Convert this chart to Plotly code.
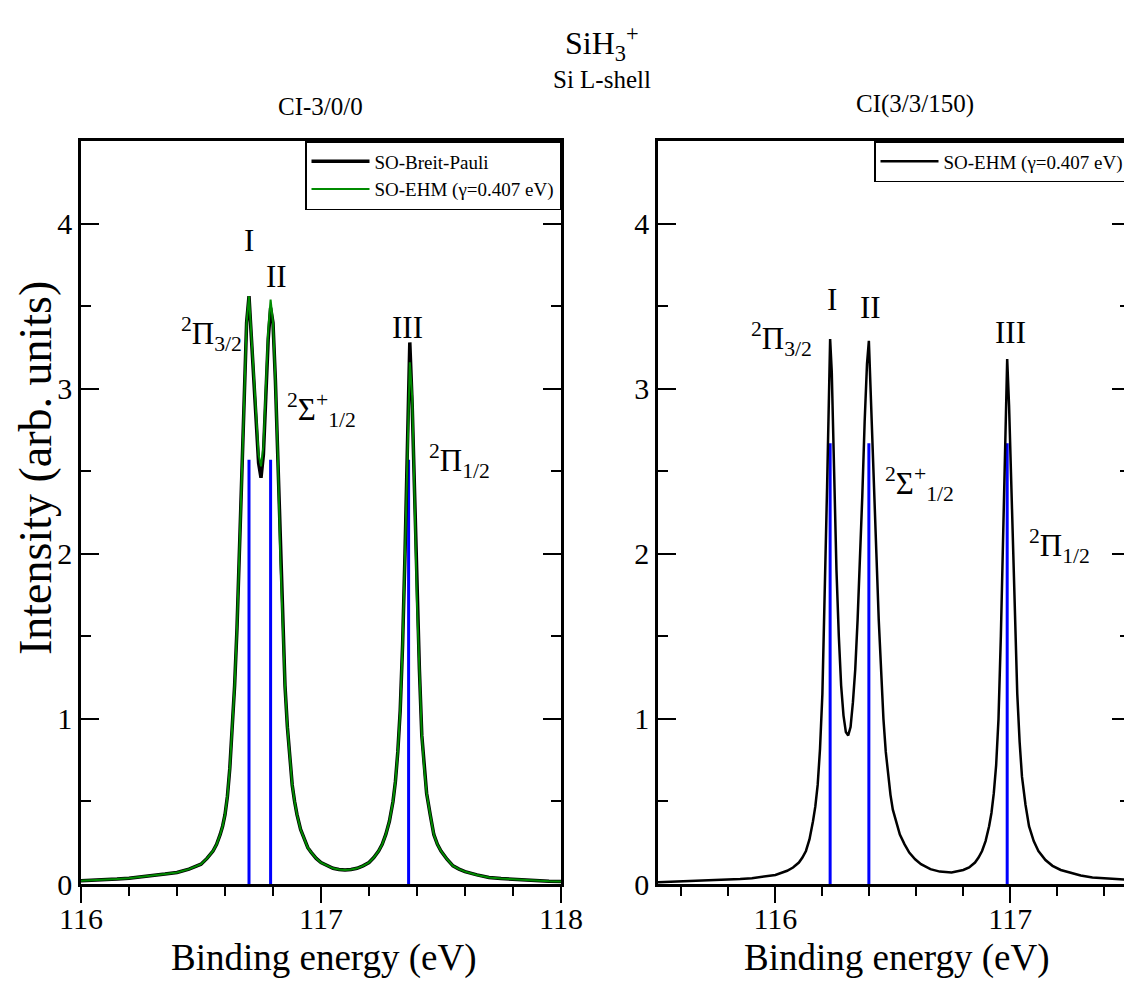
import plotly.graph_objects as go

# ---------------- data ----------------
# Left panel: CI-3/0/0, SO-Breit-Pauli (black) and SO-EHM (green)
left_x = [116.00, 116.05, 116.10, 116.15, 116.20, 116.25, 116.30, 116.35, 116.40, 116.45,
          116.50, 116.525, 116.55, 116.565, 116.58, 116.59, 116.60, 116.61, 116.62, 116.63,
          116.64, 116.65, 116.66, 116.67, 116.68, 116.69, 116.70, 116.71, 116.72, 116.73,
          116.74, 116.75, 116.76, 116.77, 116.78, 116.79, 116.80, 116.81, 116.82, 116.83,
          116.84, 116.85, 116.86, 116.87, 116.88, 116.89, 116.90, 116.915, 116.93, 116.945,
          116.96, 116.98, 117.00, 117.025, 117.05, 117.075, 117.10, 117.125, 117.15, 117.175,
          117.20, 117.22, 117.24, 117.255, 117.27, 117.285, 117.30, 117.31, 117.32, 117.33,
          117.34, 117.35, 117.36, 117.37, 117.38, 117.39, 117.40, 117.41, 117.42, 117.43,
          117.44, 117.455, 117.47, 117.485, 117.50, 117.525, 117.55, 117.575, 117.60, 117.65,
          117.70, 117.75, 117.80, 117.85, 117.90, 117.95, 118.00]
left_bp = [0.020, 0.022, 0.025, 0.030, 0.035, 0.042, 0.050, 0.060, 0.070, 0.090,
           0.120, 0.155, 0.200, 0.240, 0.300, 0.350, 0.420, 0.530, 0.700, 0.920,
           1.200, 1.550, 2.000, 2.500, 3.000, 3.400, 3.560, 3.300, 3.000, 2.750,
           2.550, 2.460, 2.600, 2.950, 3.300, 3.490, 3.400, 3.050, 2.600, 2.000,
           1.550, 1.200, 0.950, 0.750, 0.600, 0.500, 0.420, 0.330, 0.270, 0.220,
           0.190, 0.155, 0.130, 0.110, 0.095, 0.088, 0.085, 0.088, 0.095, 0.110,
           0.130, 0.160, 0.200, 0.240, 0.300, 0.380, 0.500, 0.620, 0.800, 1.050,
           1.450, 2.000, 2.700, 3.280, 2.900, 2.300, 1.700, 1.300, 0.900, 0.700,
           0.550, 0.420, 0.300, 0.240, 0.200, 0.150, 0.110, 0.090, 0.075, 0.055,
           0.040, 0.033, 0.028, 0.024, 0.020, 0.017, 0.015]
left_ehm = [0.020, 0.022, 0.025, 0.030, 0.035, 0.042, 0.050, 0.060, 0.070, 0.090,
            0.120, 0.155, 0.200, 0.240, 0.300, 0.350, 0.420, 0.530, 0.700, 0.920,
            1.200, 1.550, 2.000, 2.500, 3.000, 3.400, 3.560, 3.320, 3.020, 2.780,
            2.600, 2.530, 2.650, 3.000, 3.350, 3.540, 3.400, 3.050, 2.600, 2.000,
            1.550, 1.200, 0.950, 0.750, 0.600, 0.500, 0.420, 0.330, 0.270, 0.220,
            0.190, 0.155, 0.130, 0.110, 0.095, 0.088, 0.085, 0.088, 0.095, 0.110,
            0.130, 0.160, 0.200, 0.240, 0.300, 0.380, 0.500, 0.620, 0.800, 1.050,
            1.450, 2.000, 2.650, 3.160, 2.950, 2.300, 1.700, 1.300, 0.900, 0.700,
            0.550, 0.420, 0.300, 0.240, 0.200, 0.150, 0.110, 0.090, 0.075, 0.055,
            0.040, 0.033, 0.028, 0.024, 0.020, 0.017, 0.015]
left_sticks_x = [116.70, 116.79, 117.365]
left_sticks_h = [2.57, 2.57, 2.57]

# Right panel: CI(3/3/150), SO-EHM (black)
right_x = [115.50, 115.60, 115.70, 115.80, 115.85, 115.90, 115.95, 116.00, 116.05, 116.075,
           116.10, 116.115, 116.13, 116.145, 116.16, 116.17, 116.18, 116.19, 116.20, 116.21,
           116.22, 116.233, 116.24, 116.25, 116.26, 116.27, 116.28, 116.29, 116.30, 116.31,
           116.32, 116.33, 116.34, 116.35, 116.36, 116.37, 116.38, 116.39, 116.398, 116.41,
           116.42, 116.43, 116.44, 116.45, 116.46, 116.47, 116.48, 116.49, 116.50, 116.515,
           116.53, 116.55, 116.57, 116.595, 116.62, 116.66, 116.70, 116.75, 116.80, 116.825,
           116.85, 116.865, 116.88, 116.895, 116.91, 116.92, 116.93, 116.94, 116.95, 116.96,
           116.97, 116.98, 116.987, 116.995, 117.01, 117.02, 117.03, 117.04, 117.05, 117.065,
           117.08, 117.10, 117.12, 117.15, 117.18, 117.215, 117.25, 117.30, 117.35, 117.40,
           117.45, 117.51]
right_y = [0.010, 0.015, 0.020, 0.025, 0.030, 0.035, 0.043, 0.055, 0.080, 0.100,
           0.130, 0.160, 0.200, 0.270, 0.380, 0.470, 0.600, 0.820, 1.150, 1.700,
           2.400, 3.300, 3.100, 2.500, 1.900, 1.500, 1.200, 1.020, 0.920, 0.900,
           0.950, 1.100, 1.300, 1.600, 1.950, 2.350, 2.800, 3.150, 3.290, 2.850,
           2.400, 2.000, 1.600, 1.280, 1.000, 0.800, 0.650, 0.540, 0.450, 0.370,
           0.300, 0.240, 0.190, 0.150, 0.120, 0.090, 0.075, 0.070, 0.085, 0.100,
           0.130, 0.160, 0.200, 0.260, 0.350, 0.430, 0.550, 0.720, 1.000, 1.500,
           2.200, 2.900, 3.180, 2.900, 2.100, 1.550, 1.150, 0.860, 0.650, 0.480,
           0.350, 0.260, 0.200, 0.145, 0.110, 0.085, 0.070, 0.052, 0.040, 0.034,
           0.030, 0.025]
right_sticks_x = [116.233, 116.398, 116.987]
right_sticks_h = [2.67, 2.67, 2.67]

left_labels = [
    (116.70, 3.90, "I"), (116.815, 3.68, "II"), (117.36, 3.37, "III"),
    (116.545, 3.33, "<sup>2</sup>Π<sub>3/2</sub>"),
    (117.00, 2.87, "<sup>2</sup>Σ<sup>+</sup><sub>1/2</sub>"),
    (117.575, 2.56, "<sup>2</sup>Π<sub>1/2</sub>"),
]
right_labels = [
    (116.24, 3.54, "I"), (116.407, 3.49, "II"), (117.00, 3.34, "III"),
    (116.025, 3.30, "<sup>2</sup>Π<sub>3/2</sub>"),
    (116.614, 2.42, "<sup>2</sup>Σ<sup>+</sup><sub>1/2</sub>"),
    (117.21, 2.05, "<sup>2</sup>Π<sub>1/2</sub>"),
]

FONT = "Liberation Serif, Times New Roman, serif"
BLUE = "#0000ff"
GREEN = "#008b00"

# page has an 8px body margin: figure occupies window minus that offset
OFF = 8
W, H = 1132 - OFF, 982 - OFF


def px(x):
    return (x - OFF) / W


def py(y):
    return 1 - (y - OFF) / H


def stick_xy(xs, hs):
    sx, sy = [], []
    for x, h in zip(xs, hs):
        sx += [x, x, None]
        sy += [0, h, None]
    return sx, sy


fig = go.Figure()

# sticks
sx, sy = stick_xy(left_sticks_x, left_sticks_h)
fig.add_trace(go.Scatter(x=sx, y=sy, mode="lines", line=dict(color=BLUE, width=3),
                         showlegend=False, xaxis="x", yaxis="y", hoverinfo="skip"))
sx, sy = stick_xy(right_sticks_x, right_sticks_h)
fig.add_trace(go.Scatter(x=sx, y=sy, mode="lines", line=dict(color=BLUE, width=3),
                         showlegend=False, xaxis="x2", yaxis="y2", hoverinfo="skip"))

# curves
fig.add_trace(go.Scatter(x=left_x, y=left_bp, mode="lines", name="SO-Breit-Pauli",
                         line=dict(color="black", width=3.5), xaxis="x", yaxis="y",
                         legend="legend"))
fig.add_trace(go.Scatter(x=left_x, y=left_ehm, mode="lines", name="SO-EHM (γ=0.407 eV)",
                         line=dict(color=GREEN, width=2), xaxis="x", yaxis="y",
                         legend="legend"))
fig.add_trace(go.Scatter(x=right_x, y=right_y, mode="lines", name="SO-EHM (γ=0.407 eV)",
                         line=dict(color="black", width=2.5), xaxis="x2", yaxis="y2",
                         legend="legend2"))

L1, R1 = px(81), px(561)
L2, R2 = px(658), px(1130)
YB, YT = py(884), py(141)

xcommon = dict(showline=True, linecolor="black", linewidth=2.5, mirror=True,
               ticks="outside", ticklen=16, tickwidth=2, tickcolor="black",
               showgrid=False, zeroline=False, dtick=1, automargin=False,
               ticklabelstandoff=-10,
               minor=dict(ticks="outside", ticklen=9, tickwidth=2, tickcolor="black", dtick=0.2),
               tickfont=dict(family=FONT, size=30, color="black"))
ycommon = dict(showline=True, linecolor="black", linewidth=2.5, mirror="ticks",
               ticks="inside", ticklen=18, tickwidth=2, tickcolor="black",
               showgrid=False, zeroline=False, dtick=1, range=[0, 4.5], automargin=False,
               minor=dict(ticks="inside", ticklen=10, tickwidth=2, tickcolor="black", dtick=0.5),
               tickfont=dict(family=FONT, size=30, color="black"))

leg = dict(yanchor="top", y=YT, xanchor="right", bgcolor="white",
           bordercolor="black", borderwidth=1.5, font=dict(family=FONT, size=19, color="black"),
           tracegroupgap=0, itemwidth=58)

fig.update_layout(
    width=W, height=H,
    margin=dict(l=0, r=0, t=0, b=0, pad=0, autoexpand=False),
    paper_bgcolor="white", plot_bgcolor="white",
    font=dict(family=FONT, color="black"),
    xaxis=dict(domain=[L1, R1], range=[116, 118], anchor="y", tick0=116, **xcommon),
    yaxis=dict(domain=[YB, YT], anchor="x", **ycommon),
    xaxis2=dict(domain=[L2, R2], range=[115.5, 117.51], anchor="y2", tick0=116, **xcommon),
    yaxis2=dict(domain=[YB, YT], anchor="x2", **ycommon),
    legend=dict(x=R1, **leg),
    legend2=dict(x=R2, **leg),
    showlegend=True,
)

ann = []
for x, y, t in left_labels:
    ann.append(dict(x=x, y=y, xref="x", yref="y", text=t, showarrow=False,
                    xanchor="center", yanchor="middle",
                    font=dict(family=FONT, size=31, color="black")))
for x, y, t in right_labels:
    ann.append(dict(x=x, y=y, xref="x2", yref="y2", text=t, showarrow=False,
                    xanchor="center", yanchor="middle",
                    font=dict(family=FONT, size=31, color="black")))


def pann(x, y, text, size, angle=0):
    return dict(x=px(x), y=py(y), xref="paper", yref="paper", showarrow=False,
                xanchor="center", yanchor="middle", textangle=angle, text=text,
                font=dict(family=FONT, size=size, color="black"))


ann += [
    pann(602, 43, "SiH<sub>3</sub><sup>+</sup>", 32),
    pann(602, 80, "Si L-shell", 25),
    pann(320, 107, "CI-3/0/0", 25),
    pann(915, 104, "CI(3/3/150)", 25),
    pann(35, 468, "Intensity (arb. units)", 46, -90),
    pann(324, 958, "Binding energy (eV)", 37),
    pann(897, 958, "Binding energy (eV)", 37),
]
fig.update_layout(annotations=ann)

fig.write_html("out.html")
